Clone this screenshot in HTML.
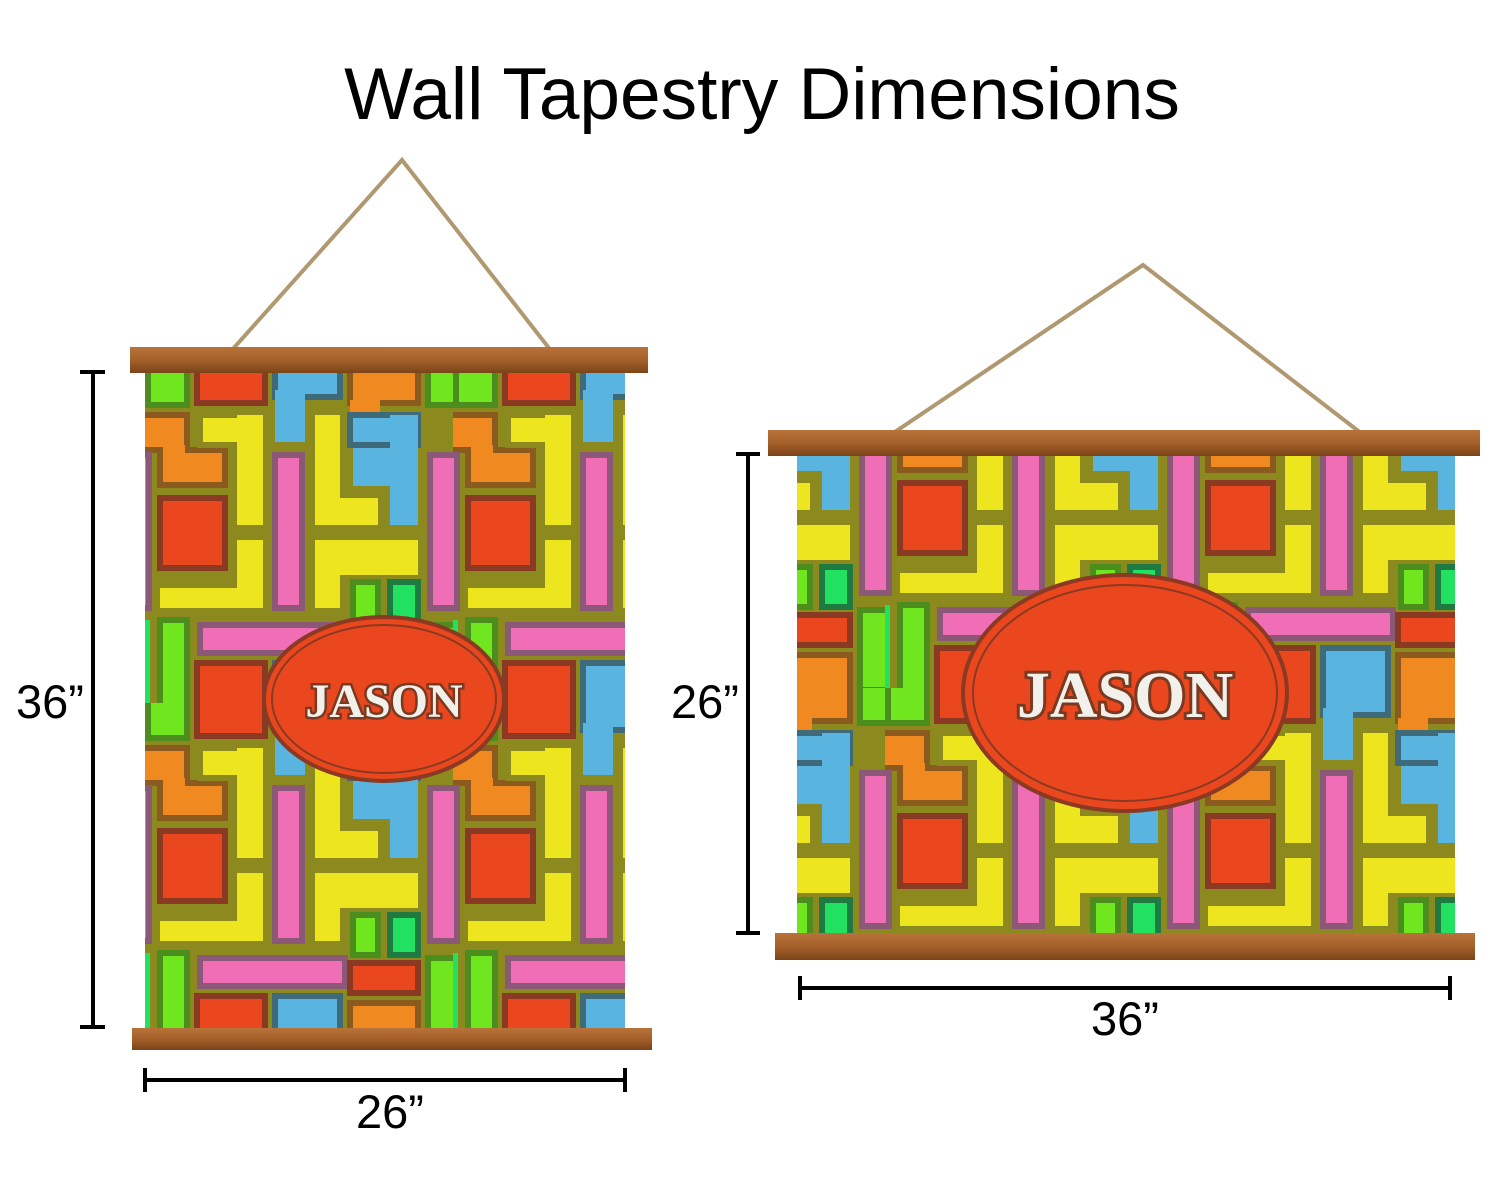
<!DOCTYPE html>
<html><head><meta charset="utf-8"><style>
html,body{margin:0;padding:0;background:#fff;width:1500px;height:1180px;overflow:hidden}
</style></head><body>
<svg width="1500" height="1180" viewBox="0 0 1500 1180" xmlns="http://www.w3.org/2000/svg">
<defs>
<g id="tile">
<rect x="0" y="0" width="308" height="333" fill="#8c8a1e"/>
<g stroke-width="6">
<rect x="3" y="-3" width="39" height="38" fill="#6fe61e" stroke="#4c8e1e"/>
<rect x="52" y="-3" width="68" height="36" fill="#ea471e" stroke="#8a3a22"/>
<rect x="130" y="-3" width="65" height="30" fill="#5ab4e0" stroke="#3f6a7a"/>
<rect x="130" y="20" width="30" height="52" fill="#5ab4e0" stroke="none"/>
<rect x="205" y="-3" width="68" height="36" fill="#f08a20" stroke="#8a5a1e"/>
<rect x="205" y="30" width="30" height="45" fill="#f08a20" stroke="none"/>
<rect x="283" y="-3" width="30" height="38" fill="#6fe61e" stroke="#4c8e1e"/>
<rect x="-3" y="45" width="45" height="35" fill="#f08a20" stroke="#8a5a1e"/>
<rect x="15" y="80" width="65" height="35" fill="#f08a20" stroke="#8a5a1e"/>
<rect x="18" y="75" width="22" height="12" fill="#f08a20"/>
<rect x="55" y="45" width="63" height="30" fill="#ede61e" stroke="#8c8a1e"/>
<rect x="92" y="45" width="26" height="110" fill="#ede61e"/>
<rect x="15" y="128" width="65" height="70" fill="#ea471e" stroke="#8a3a22"/>
<rect x="15" y="218" width="103" height="20" fill="#ede61e"/>
<rect x="92" y="170" width="26" height="68" fill="#ede61e"/>
<rect x="130" y="85" width="27" height="153" fill="#ef6eb6" stroke="#8c5878"/>
<rect x="285" y="85" width="27" height="153" fill="#ef6eb6" stroke="#8c5878"/>
<rect x="-23" y="85" width="27" height="153" fill="#ef6eb6" stroke="#8c5878"/>
<rect x="170" y="45" width="25" height="110" fill="#ede61e"/>
<rect x="170" y="128" width="63" height="27" fill="#ede61e"/>
<rect x="205" y="45" width="68" height="30" fill="#5ab4e0" stroke="#3f6a7a"/>
<rect x="245" y="45" width="28" height="110" fill="#5ab4e0"/>
<rect x="208" y="78" width="40" height="38" fill="#5ab4e0"/>
<rect x="170" y="170" width="103" height="35" fill="#ede61e"/>
<rect x="170" y="170" width="25" height="68" fill="#ede61e"/>
<rect x="208" y="212" width="25" height="40" fill="#6fe61e" stroke="#4c8e1e"/>
<rect x="245" y="212" width="28" height="40" fill="#22e060" stroke="#1e7a40"/>
<rect x="15" y="250" width="27" height="86" fill="#6fe61e" stroke="#4c8e1e"/>
<rect x="-3" y="250" width="8" height="86" fill="#22e060"/>
<rect x="55" y="255" width="145" height="28" fill="#ef6eb6" stroke="#8c5878"/>
<rect x="52" y="293" width="68" height="45" fill="#ea471e" stroke="#8a3a22"/>
<rect x="130" y="293" width="65" height="45" fill="#5ab4e0" stroke="#3f6a7a"/>
<rect x="205" y="260" width="68" height="30" fill="#ea471e" stroke="#8a3a22"/>
<rect x="205" y="300" width="68" height="38" fill="#f08a20" stroke="#8a5a1e"/>
<rect x="283" y="255" width="30" height="80" fill="#6fe61e" stroke="#4c8e1e"/>
</g>
</g>
<pattern id="pL" patternUnits="userSpaceOnUse" x="145" y="370" width="308" height="333"><use href="#tile"/></pattern>
<pattern id="pR" patternUnits="userSpaceOnUse" x="885" y="355" width="308" height="333"><use href="#tile"/></pattern>
<linearGradient id="wood" x1="0" y1="0" x2="0" y2="1">
<stop offset="0" stop-color="#b8733a"/><stop offset="0.5" stop-color="#a5602a"/><stop offset="1" stop-color="#7a4418"/>
</linearGradient>
</defs>

<text x="762" y="119" text-anchor="middle" font-family="Liberation Sans, sans-serif" font-size="73" fill="#000">Wall Tapestry Dimensions</text>

<polyline points="232,350 402,160 552,352" fill="none" stroke="#b09870" stroke-width="4"/>
<rect x="145" y="370" width="480" height="660" fill="url(#pL)"/>
<rect x="130" y="347" width="518" height="26" fill="url(#wood)"/>
<rect x="132" y="1028" width="520" height="22" fill="url(#wood)"/>
<ellipse cx="384" cy="699" rx="120" ry="82" fill="#ea471e" stroke="#8a3a22" stroke-width="4"/>
<ellipse cx="384" cy="699" rx="112" ry="74" fill="none" stroke="#8a3a22" stroke-width="2"/>
<text x="384" y="717" text-anchor="middle" font-family="Liberation Serif, serif" font-weight="bold" font-size="48" fill="#f2f0ea" stroke="#7a3a22" stroke-width="5" paint-order="stroke">JASON</text>

<g stroke="#000" stroke-width="4">
<line x1="93" y1="372" x2="93" y2="1027"/><line x1="80" y1="372" x2="105" y2="372"/><line x1="80" y1="1027" x2="105" y2="1027"/>
<line x1="145" y1="1080" x2="625" y2="1080"/><line x1="145" y1="1068" x2="145" y2="1092"/><line x1="625" y1="1068" x2="625" y2="1092"/>
</g>
<text x="50" y="718" text-anchor="middle" font-family="Liberation Sans, sans-serif" font-size="47">36”</text>
<text x="390" y="1128" text-anchor="middle" font-family="Liberation Sans, sans-serif" font-size="47">26”</text>

<polyline points="880,442 1143,265 1370,440" fill="none" stroke="#b09870" stroke-width="4"/>
<rect x="797" y="455" width="658" height="480" fill="url(#pR)"/>
<rect x="768" y="430" width="712" height="26" fill="url(#wood)"/>
<rect x="775" y="933" width="700" height="27" fill="url(#wood)"/>
<ellipse cx="1125" cy="693" rx="162" ry="118" fill="#ea471e" stroke="#8a3a22" stroke-width="4"/>
<ellipse cx="1125" cy="693" rx="152" ry="108" fill="none" stroke="#8a3a22" stroke-width="2"/>
<text x="1125" y="717" text-anchor="middle" font-family="Liberation Serif, serif" font-weight="bold" font-size="66" fill="#f2f0ea" stroke="#7a3a22" stroke-width="6" paint-order="stroke">JASON</text>

<g stroke="#000" stroke-width="4">
<line x1="748" y1="454" x2="748" y2="933"/><line x1="736" y1="454" x2="760" y2="454"/><line x1="736" y1="933" x2="760" y2="933"/>
<line x1="800" y1="988" x2="1450" y2="988"/><line x1="800" y1="976" x2="800" y2="1000"/><line x1="1450" y1="976" x2="1450" y2="1000"/>
</g>
<text x="705" y="718" text-anchor="middle" font-family="Liberation Sans, sans-serif" font-size="47">26”</text>
<text x="1125" y="1035" text-anchor="middle" font-family="Liberation Sans, sans-serif" font-size="47">36”</text>
</svg>
</body></html>
